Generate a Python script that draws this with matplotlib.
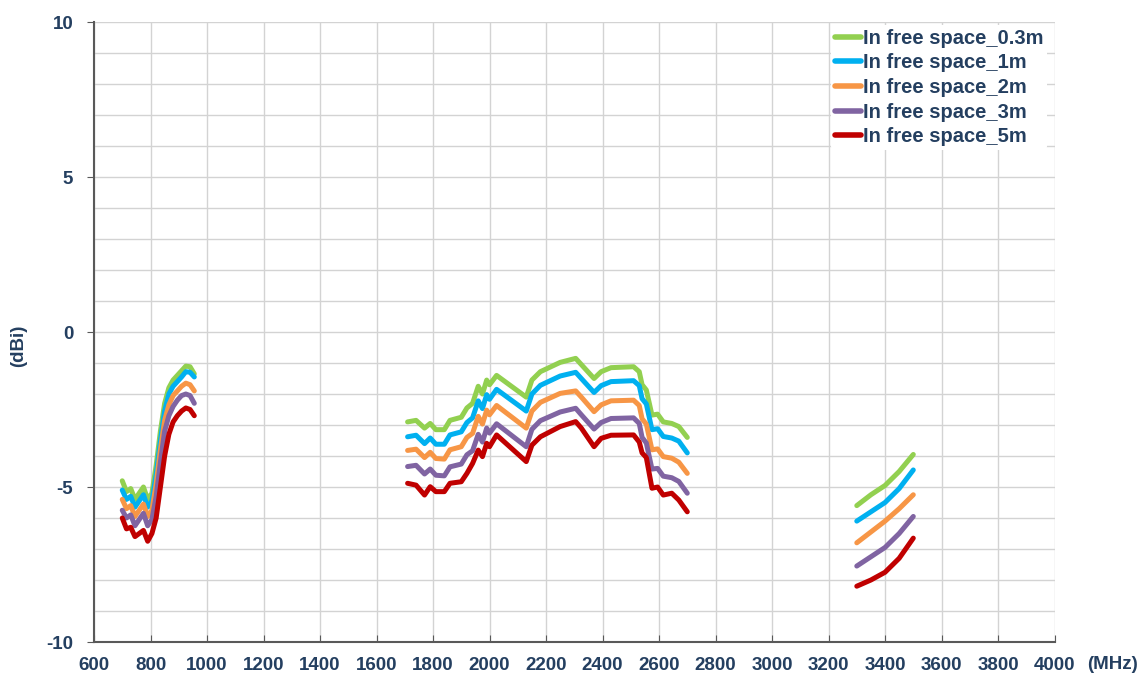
import matplotlib
matplotlib.use("Agg")
import matplotlib.pyplot as plt
from matplotlib.ticker import MultipleLocator

plt.rcParams["font.family"] = ["Liberation Sans", "DejaVu Sans"]
plt.rcParams["axes.unicode_minus"] = False

navy = "#243F60"

# Band 1 (low band)
band1_freq = [700, 715, 730, 745, 760, 775, 790, 805, 820, 835, 850, 865, 880, 895, 910, 925, 940, 955]
band1_green = [-4.8, -5.15, -5.05, -5.4, -5.2, -5.0, -5.4, -5.2, -4.3, -3.2, -2.3, -1.8, -1.55, -1.4, -1.25, -1.1, -1.12, -1.35]
band1_blue = [-5.1, -5.4, -5.3, -5.65, -5.45, -5.25, -5.65, -5.45, -4.6, -3.5, -2.55, -2.0, -1.75, -1.6, -1.45, -1.28, -1.3, -1.45]
band1_orange = [-5.4, -5.7, -5.6, -5.95, -5.75, -5.55, -5.95, -5.75, -4.9, -3.8, -2.85, -2.35, -2.05, -1.9, -1.75, -1.65, -1.7, -1.9]
band1_purple = [-5.75, -6.0, -5.9, -6.25, -6.05, -5.85, -6.25, -6.05, -5.3, -4.2, -3.2, -2.7, -2.4, -2.2, -2.05, -2.0, -2.05, -2.3]
band1_red = [-6.0, -6.35, -6.3, -6.6, -6.5, -6.4, -6.75, -6.5, -6.0, -5.0, -4.0, -3.3, -2.9, -2.7, -2.55, -2.45, -2.5, -2.7]

# Band 2 (mid band)
band2_freq = [1710, 1740, 1770, 1790, 1810, 1840, 1860, 1900, 1920, 1940, 1960, 1975, 1990, 2000, 2025,
              2130, 2150, 2180, 2250, 2305, 2325, 2370, 2395, 2430, 2510, 2530, 2540, 2555, 2575, 2595,
              2615, 2645, 2670, 2700]
band2_green = [-2.9, -2.85, -3.1, -2.95, -3.15, -3.15, -2.85, -2.75, -2.45, -2.3, -1.75, -2.0, -1.55, -1.7, -1.4,
               -2.1, -1.55, -1.28, -0.98, -0.85, -1.05, -1.5, -1.28, -1.15, -1.12, -1.28, -1.7, -1.87, -2.68, -2.65,
               -2.9, -2.95, -3.05, -3.4]
band2_blue = [-3.38, -3.33, -3.6, -3.42, -3.62, -3.62, -3.32, -3.22, -2.92, -2.77, -2.22, -2.47, -2.02, -2.17, -1.85,
              -2.55, -2.0, -1.72, -1.42, -1.3, -1.5, -1.95, -1.73, -1.6, -1.57, -1.73, -2.15, -2.32, -3.15, -3.12,
              -3.37, -3.42, -3.52, -3.9]
band2_orange = [-3.82, -3.78, -4.05, -3.88, -4.08, -4.1, -3.8, -3.7, -3.4, -3.27, -2.72, -2.97, -2.52, -2.67, -2.37,
                -3.1, -2.55, -2.27, -1.98, -1.9, -2.1, -2.57, -2.35, -2.22, -2.2, -2.37, -2.8, -2.97, -3.8, -3.77,
                -4.02, -4.07, -4.2, -4.56]
band2_purple = [-4.34, -4.3, -4.58, -4.42, -4.62, -4.64, -4.35, -4.26, -3.96, -3.83, -3.3, -3.55, -3.1, -3.26, -2.96,
                -3.7, -3.14, -2.86, -2.58, -2.46, -2.67, -3.13, -2.92, -2.79, -2.77, -2.95, -3.4, -3.58, -4.42, -4.4,
                -4.65, -4.7, -4.82, -5.2]
band2_red = [-4.88, -4.94, -5.26, -4.99, -5.15, -5.15, -4.88, -4.83, -4.56, -4.24, -3.81, -4.02, -3.59, -3.7, -3.32,
             -4.18, -3.65, -3.38, -3.05, -2.89, -3.1, -3.7, -3.43, -3.33, -3.32, -3.55, -3.9, -4.05, -5.04, -5.0,
             -5.26, -5.2, -5.42, -5.8]

# Band 3 (high band)
band3_freq = [3300, 3350, 3400, 3450, 3500]
band3_green = [-5.6, -5.25, -4.95, -4.5, -3.95]
band3_blue = [-6.1, -5.8, -5.5, -5.05, -4.45]
band3_orange = [-6.8, -6.45, -6.1, -5.7, -5.25]
band3_purple = [-7.55, -7.25, -6.95, -6.5, -5.95]
band3_red = [-8.2, -8.0, -7.75, -7.3, -6.65]

labels = ["In free space_0.3m", "In free space_1m", "In free space_2m",
          "In free space_3m", "In free space_5m"]
colors = ["#92D050", "#00B0F0", "#F79646", "#8064A2", "#C00000"]

series = [
    (band1_green, band2_green, band3_green),
    (band1_blue, band2_blue, band3_blue),
    (band1_orange, band2_orange, band3_orange),
    (band1_purple, band2_purple, band3_purple),
    (band1_red, band2_red, band3_red),
]

fig = plt.figure(figsize=(11.45, 6.84), dpi=100)
ax = fig.add_axes([0.0821, 0.0614, 0.8389, 0.9064])

for (b1, b2, b3), color, label in zip(series, colors, labels):
    ax.plot(band1_freq, b1, color=color, lw=3.6, label=label, solid_capstyle="round", solid_joinstyle="round")
    ax.plot(band2_freq, b2, color=color, lw=3.6, solid_capstyle="round", solid_joinstyle="round")
    ax.plot(band3_freq, b3, color=color, lw=3.6, solid_capstyle="round", solid_joinstyle="round")

ax.set_xlim(600, 4000)
ax.set_ylim(-10, 10)
ax.xaxis.set_major_locator(MultipleLocator(200))
ax.yaxis.set_major_locator(MultipleLocator(5))
ax.yaxis.set_minor_locator(MultipleLocator(1))

ax.grid(True, which="major", axis="x", color="#D3D3D3", lw=1)
ax.grid(True, which="both", axis="y", color="#D3D3D3", lw=1)
ax.set_axisbelow(True)

for side in ["top", "right"]:
    ax.spines[side].set_visible(False)
for side in ["left", "bottom"]:
    ax.spines[side].set_color("#595959")
    ax.spines[side].set_linewidth(1.5)

ax.tick_params(axis="x", direction="in", length=5, color="#595959", pad=11,
               labelsize=13.5, labelcolor=navy)
ax.tick_params(axis="y", which="major", direction="out", length=5, color="#595959", pad=10,
               labelsize=13.5, labelcolor=navy)
ax.tick_params(axis="y", which="minor", length=0)
for lbl in ax.get_xticklabels() + ax.get_yticklabels():
    lbl.set_fontweight("bold")

fig.text(0.016, 0.495, "(dBi)", rotation=90, ha="center", va="center",
         fontsize=13.5, fontweight="bold", color=navy)
fig.text(0.972, 0.028, "(MHz)", ha="center", va="center",
         fontsize=13.5, fontweight="bold", color=navy)

leg = ax.legend(loc="upper right", bbox_to_anchor=(1.003, 1.012), frameon=True,
                handlelength=1.3, handletextpad=0.1, labelspacing=0.28,
                borderpad=0.2, prop={"size": 14.5, "weight": "bold"})
leg.get_frame().set_edgecolor("none")
leg.get_frame().set_facecolor("white")
leg.get_frame().set_alpha(1)
for text in leg.get_texts():
    text.set_color(navy)
for line in leg.get_lines():
    line.set_linewidth(4)

plt.savefig("out.png", dpi=100)
